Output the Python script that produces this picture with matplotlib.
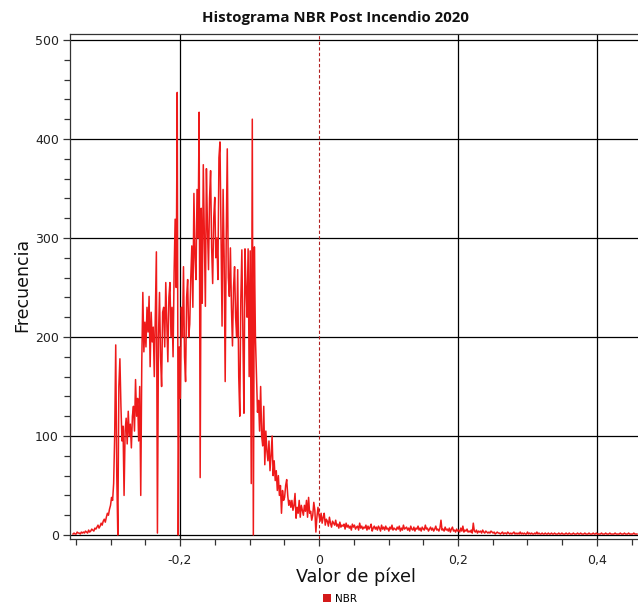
import numpy as np
import matplotlib
matplotlib.use("Agg")
import matplotlib.pyplot as plt
from matplotlib.patches import Patch
from matplotlib.ticker import MultipleLocator, FuncFormatter

# Histogram of NBR pixel values (post-fire 2020), fine bins
bin_start = -0.354
bin_width = 0.0015
counts = [
    1, 2, 1, 1, 3, 2, 2, 1, 3, 2,
    3, 2, 4, 3, 2, 5, 3, 4, 6, 5,
    4, 7, 6, 8, 10, 7, 9, 12, 10, 14,
    16, 13, 18, 22, 20, 26, 30, 38, 35, 52,
    100, 192, 60, 0, 150, 178, 130, 95, 110, 40,
    105, 118, 92, 125, 100, 112, 88, 120, 130, 105,
    157, 120, 138, 95, 150, 40, 175, 245, 185, 215,
    190, 230, 205, 241, 170, 225, 195, 210, 160, 225,
    286, 2, 200, 245, 180, 150, 225, 230, 190, 255,
    215, 175, 240, 255, 200, 230, 180, 265, 319, 250,
    447, 0, 190, 138, 230, 200, 271, 180, 155, 240,
    258, 200, 213, 260, 292, 230, 345, 280, 258, 349,
    300, 427, 58, 330, 234, 374, 300, 231, 370, 310,
    268, 340, 368, 290, 254, 320, 341, 280, 300, 258,
    381, 397, 300, 211, 349, 280, 155, 300, 390, 260,
    241, 290, 230, 191, 250, 271, 220, 200, 268, 160,
    120, 238, 288, 200, 123, 289, 250, 220, 289, 160,
    287, 52, 420, 0, 291, 200, 160, 124, 136, 105,
    150, 100, 90, 130, 71, 105, 85, 75, 95, 65,
    80, 100, 60, 75, 55, 65, 45, 60, 40, 50,
    22, 45, 35, 38, 50, 56, 40, 30, 35, 28,
    35, 25, 30, 42, 17, 28, 22, 35, 18, 30,
    25, 20, 30, 24, 35, 18, 38, 22, 24, 15,
    20, 33, 25, 3, 18, 28, 20, 14, 22, 12,
    18, 22, 10, 16, 14, 9, 18, 12, 8, 14,
    12, 10, 15, 9, 11, 7, 13, 8, 10, 9,
    11, 6, 12, 8, 10, 7, 9, 5, 11, 8,
    10, 6, 8, 9, 5, 12, 7, 9, 6, 8,
    7, 10, 5, 9, 6, 8, 11, 4, 7, 9,
    6, 8, 5, 9, 7, 4, 10, 6, 8, 5,
    9, 6, 7, 4, 8, 6, 10, 5, 7, 6,
    5, 8, 6, 9, 4, 7, 5, 10, 6, 7,
    8, 5, 7, 4, 9, 6, 5, 8, 4, 7,
    6, 9, 5, 7, 4, 8, 6, 5, 10, 6,
    7, 4, 6, 8, 5, 7, 4, 6, 9, 5,
    6, 4, 7, 15, 5, 6, 4, 8, 5, 6,
    4, 7, 3, 6, 8, 4, 5, 3, 6, 4,
    5, 3, 7, 4, 9, 3, 5, 4, 6, 3,
    4, 3, 5, 2, 12, 4, 3, 5, 2, 4,
    3, 4, 2, 5, 3, 2, 4, 3, 2, 3,
    2, 4, 3, 2, 3, 1, 2, 3, 2, 2,
    1, 2, 3, 1, 2, 2, 1, 3, 2, 1,
    2, 1, 2, 3, 1, 2, 1, 2, 1, 3,
    1, 2, 1, 2, 1, 1, 3, 1, 2, 1,
    2, 1, 1, 2, 1, 3, 1, 2, 1, 1,
    2, 1, 1, 2, 1, 1, 2, 1, 1, 2,
    1, 1, 2, 1, 1, 1, 2, 1, 1, 2,
    1, 1, 1, 2, 1, 1, 2, 1, 1, 1,
    2, 1, 1, 1, 2, 1, 1, 2, 1, 1,
    1, 2, 1, 1, 1, 2, 1, 1, 1, 2,
    1, 1, 2, 1, 1, 1, 1, 2, 1, 1,
    1, 2, 1, 1, 1, 2, 1, 1, 1, 1,
    2, 1, 1, 1, 1, 2, 1, 1, 1, 2,
    1, 1, 1, 2, 1, 1, 1, 1, 2, 1, 1, 1,
]
x_ticks = [-0.2, 0.0, 0.2, 0.4]
y_ticks = [0, 100, 200, 300, 400, 500]

title = "Histograma NBR Post Incendio 2020"
x_label = "Valor de píxel"
y_label = "Frecuencia"
series_name = "NBR"

values = np.asarray(counts, dtype=float)
centers = bin_start + bin_width * np.arange(len(values))

W, H = 638, 607
fig = plt.figure(figsize=(W / 100, H / 100), dpi=100)
fig.patch.set_facecolor("white")
ax = fig.add_axes([70 / W, 1 - 539 / H, 568 / W, 505 / H])

line_color = "#ee1a1a"
ax.plot(centers, values, color=line_color, lw=1.1, zorder=3)

ax.set_xlim(-0.3583, 0.459)
ax.set_ylim(-4, 506)

# grid
for v in y_ticks:
    ax.axhline(v, color="black", lw=0.9, zorder=1)
for v in x_ticks:
    if v == 0:
        ax.axvline(v, color="#b02020", lw=0.8, ls=(0, (3, 2)), zorder=2)
    else:
        ax.axvline(v, color="black", lw=0.9, zorder=1)

ax.xaxis.set_major_locator(plt.FixedLocator(x_ticks))
ax.xaxis.set_minor_locator(MultipleLocator(0.05))
ax.yaxis.set_major_locator(plt.FixedLocator(y_ticks))
ax.yaxis.set_minor_locator(MultipleLocator(20))


def comma_fmt(v, pos):
    if abs(v) < 1e-9:
        return "0"
    return f"{v:.1f}".replace(".", ",")


ax.xaxis.set_major_formatter(FuncFormatter(comma_fmt))
ax.tick_params(axis="both", which="major", direction="out", length=5, width=0.9,
               color="#333333", labelsize=9, labelcolor="#222222")
ax.tick_params(axis="both", which="minor", direction="out", length=4, width=0.9,
               color="#333333")
ax.tick_params(axis="x", pad=6)
ax.tick_params(axis="y", pad=3)

for side in ("left", "bottom", "top"):
    ax.spines[side].set_color("#333333")
    ax.spines[side].set_linewidth(0.9)
ax.spines["right"].set_visible(False)

fig.text(335 / W, 1 - 18 / H, title, ha="center", va="center",
         fontsize=10.8, fontweight="bold", family="Open Sans", color="#111111")
fig.text(356 / W, 1 - 577 / H, x_label, ha="center", va="center",
         fontsize=12.7, color="#111111")
fig.text(22 / W, 1 - 285 / H, y_label, ha="center", va="center",
         rotation=90, fontsize=12.5, color="#111111")

fig.legend(handles=[Patch(facecolor="#d41a1a", edgecolor="none", label=series_name)],
           loc="center", bbox_to_anchor=(340 / W, 1 - 599 / H), frameon=False,
           fontsize=7.5, handlelength=0.8, handleheight=0.8, handletextpad=0.4,
           borderpad=0, borderaxespad=0)

fig.savefig("out.png", dpi=100, facecolor="white")
